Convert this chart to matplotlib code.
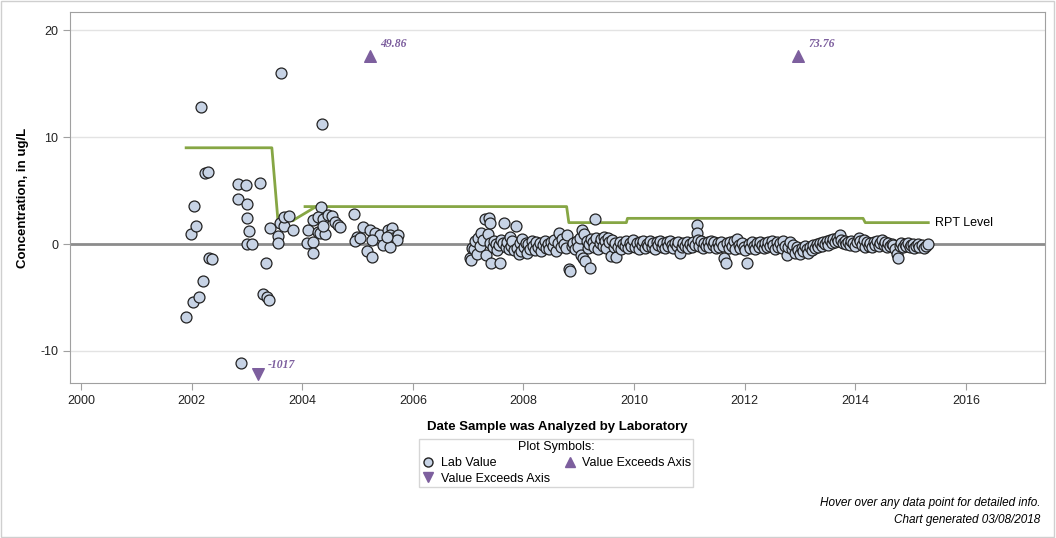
import numpy as np
import matplotlib
matplotlib.use("Agg")
import matplotlib.pyplot as plt
from matplotlib.lines import Line2D

plt.rcParams['font.family'] = ['Liberation Sans', 'DejaVu Sans']
plt.rcParams['axes.unicode_minus'] = False

# lab values (decimal year, ug/L)
early_dates = [2001.90, 2001.99, 2002.03, 2002.05, 2002.08, 2002.13, 2002.17, 2002.21, 2002.24, 2002.30,
               2002.31, 2002.37, 2002.84, 2002.84, 2002.89, 2002.98, 2003.00, 2003.00, 2003.04, 2003.00,
               2003.09, 2003.24, 2003.29, 2003.35, 2003.36, 2003.40, 2003.42, 2003.56, 2003.56, 2003.62,
               2003.60, 2003.67, 2003.67, 2003.76, 2003.83]
early_vals = [-6.8, 0.9, -5.4, 3.6, 1.7, -5.0, 12.8, -3.5, 6.6, 6.7,
              -1.3, -1.4, 5.6, 4.2, -11.1, 5.5, 3.7, 2.4, 1.2, 0.0,
              0.0, 5.7, -4.7, -1.8, -5.0, -5.2, 1.5, 0.75, 0.1, 16.0,
              2.0, 1.7, 2.5, 2.6, 1.3]

mid_dates = [2004.10, 2004.08, 2004.19, 2004.19, 2004.19, 2004.34, 2004.29, 2004.38, 2004.47, 2004.54,
             2004.59, 2004.65, 2004.68, 2004.29, 2004.32, 2004.41, 2004.38, 2004.36, 2004.94, 2005.10,
             2004.99, 2004.96, 2005.05, 2005.23, 2005.32, 2005.41, 2005.26, 2005.17, 2005.26, 2005.55,
             2005.62, 2005.59, 2005.64, 2005.73, 2005.71, 2005.53, 2005.46, 2005.59, 2005.53]
mid_vals = [1.3, 0.1, 0.2, -0.8, 2.2, 3.5, 2.5, 2.3, 2.7, 2.6,
            2.1, 1.8, 1.6, 1.1, 1.0, 0.9, 1.7, 11.2, 2.8, 1.6,
            0.65, 0.3, 0.55, 1.3, 1.0, 0.85, 0.4, -0.65, -1.2, 1.3,
            1.5, 0.85, 0.55, 0.85, 0.4, 0.2, -0.1, -0.3, 0.65]

late_dates = [2007.03, 2007.05, 2007.07, 2007.10, 2007.13, 2007.16, 2007.18, 2007.21, 2007.24, 2007.27,
              2007.30, 2007.32, 2007.35, 2007.37, 2007.39, 2007.40, 2007.42, 2007.45, 2007.47, 2007.50,
              2007.53, 2007.55, 2007.58, 2007.60, 2007.63, 2007.65, 2007.68, 2007.70, 2007.73, 2007.75,
              2007.78, 2007.80, 2007.83, 2007.86, 2007.88, 2007.91, 2007.93, 2007.96, 2007.98, 2008.01,
              2008.04, 2008.07, 2008.09, 2008.12, 2008.15, 2008.18, 2008.20, 2008.23, 2008.26, 2008.29,
              2008.32, 2008.35, 2008.38, 2008.41, 2008.44, 2008.47, 2008.50, 2008.53, 2008.56, 2008.59,
              2008.62, 2008.65, 2008.67, 2008.70, 2008.73, 2008.76, 2008.79, 2008.82, 2008.84, 2008.87,
              2008.90, 2008.93, 2008.96, 2008.99, 2009.02, 2009.04, 2009.06, 2009.08, 2009.10, 2009.12,
              2009.14, 2009.16, 2009.18, 2009.20, 2009.22, 2009.25, 2009.27, 2009.30, 2009.32, 2009.35,
              2009.38, 2009.40, 2009.43, 2009.45, 2009.48, 2009.50, 2009.52, 2009.55, 2009.58, 2009.60,
              2009.63, 2009.65, 2009.68, 2009.71, 2009.74, 2009.77, 2009.80, 2009.83, 2009.86, 2009.89,
              2009.92, 2009.95, 2009.98, 2010.02, 2010.05, 2010.08, 2010.11, 2010.14, 2010.17, 2010.20,
              2010.23, 2010.26, 2010.29, 2010.32, 2010.35, 2010.38, 2010.41, 2010.44, 2010.47, 2010.50,
              2010.53, 2010.56, 2010.59, 2010.62, 2010.65, 2010.68, 2010.71, 2010.74, 2010.77, 2010.80,
              2010.83, 2010.86, 2010.89, 2010.92, 2010.95, 2010.98, 2011.01, 2011.04, 2011.07, 2011.10,
              2011.13, 2011.14, 2011.15, 2011.18, 2011.21, 2011.24, 2011.27, 2011.30, 2011.33, 2011.36,
              2011.39, 2011.42, 2011.45, 2011.48, 2011.51, 2011.54, 2011.57, 2011.60, 2011.63, 2011.66,
              2011.68, 2011.71, 2011.74, 2011.77, 2011.80, 2011.83, 2011.86, 2011.89, 2011.92, 2011.95,
              2011.98, 2012.01, 2012.04, 2012.07, 2012.10, 2012.13, 2012.16, 2012.19, 2012.22, 2012.25,
              2012.28, 2012.31, 2012.34, 2012.37, 2012.40, 2012.43, 2012.46, 2012.49, 2012.52, 2012.55,
              2012.58, 2012.61, 2012.64, 2012.67, 2012.70, 2012.73, 2012.76, 2012.79, 2012.82, 2012.85,
              2012.88, 2012.91, 2012.94, 2012.97, 2013.00, 2013.03, 2013.06, 2013.09, 2013.12, 2013.15,
              2013.18, 2013.21, 2013.24, 2013.27, 2013.30, 2013.33, 2013.36, 2013.39, 2013.42, 2013.45,
              2013.48, 2013.51, 2013.54, 2013.57, 2013.60, 2013.63, 2013.66, 2013.69, 2013.72, 2013.75,
              2013.78, 2013.81, 2013.84, 2013.87, 2013.90, 2013.93, 2013.96, 2014.00, 2014.03, 2014.06,
              2014.09, 2014.12, 2014.15, 2014.18, 2014.21, 2014.24, 2014.27, 2014.30, 2014.33, 2014.36,
              2014.39, 2014.42, 2014.45, 2014.48, 2014.51, 2014.54, 2014.57, 2014.60, 2014.63, 2014.66,
              2014.69, 2014.72, 2014.75, 2014.77, 2014.80, 2014.83, 2014.86, 2014.89, 2014.92, 2014.95,
              2014.98, 2015.01, 2015.04, 2015.07, 2015.10, 2015.13, 2015.16, 2015.20, 2015.24, 2015.28,
              2015.32]
late_vals = [-1.3, -1.5, -0.4, -0.5, 0.3, -0.9, 0.6, -0.2, 1.0, 0.4,
             2.3, -1.0, 0.9, 2.4, 2.0, 0.1, -1.8, -0.3, 0.3, 0.0,
             -0.6, -0.1, -1.8, 0.4, 0.1, 2.0, -0.3, 0.2, -0.5, 0.7,
             -0.2, 0.3, -0.6, 1.7, -0.4, -0.9, 0.1, -0.7, 0.5, -0.3,
             0.1, -0.8, 0.0, -0.5, 0.3, -0.2, -0.6, 0.2, -0.3, 0.1,
             -0.7, -0.1, 0.3, -0.4, 0.0, -0.5, 0.2, -0.2, 0.4, -0.7,
             0.1, 1.0, -0.3, 0.5, 0.0, -0.4, 0.8, -2.3, -2.5, -0.2,
             0.1, -0.5, 0.3, -0.3, 0.6, -1.0, 1.3, -1.3, 0.9, -1.6,
             0.3, -0.4, 0.0, -2.2, 0.5, 0.2, -0.3, 2.3, 0.6, -0.5,
             0.1, 0.5, -0.2, 0.7, 0.3, -0.4, 0.6, 0.2, -1.1, 0.4,
             -0.3, 0.1, -1.2, -0.3, 0.2, -0.5, 0.0, -0.2, 0.3, -0.4,
             0.1, -0.2, 0.4, -0.3, 0.1, -0.5, 0.2, -0.1, 0.3, -0.4,
             0.0, -0.2, 0.3, -0.3, 0.1, -0.5, 0.2, -0.1, 0.3, -0.3,
             0.1, -0.4, 0.2, -0.2, 0.3, -0.1, -0.4, 0.1, -0.2, 0.2,
             -0.8, -0.3, 0.1, -0.2, 0.2, -0.4, 0.0, -0.3, 0.2, -0.1,
             1.8, 1.0, 0.4, -0.2, 0.3, -0.4, 0.1, -0.2, 0.2, -0.3,
             0.3, -0.1, 0.2, -0.4, 0.1, -0.3, 0.2, -0.2, -1.3, -1.8,
             0.1, -0.4, 0.2, -0.2, 0.3, -0.5, 0.5, -0.1, -0.4, 0.1,
             -0.3, -0.6, -1.8, 0.0, -0.4, 0.2, -0.2, -0.5, 0.1, -0.3,
             0.2, -0.1, -0.4, 0.1, -0.3, 0.2, -0.2, 0.3, -0.1, -0.5,
             0.2, -0.3, 0.1, -0.4, 0.3, -0.2, -1.0, -0.3, 0.2, -0.5,
             -0.1, -0.8, -0.3, -0.6, -0.9, -0.4, -0.7, -0.2, -0.5, -0.8,
             -0.3, -0.6, -0.1, -0.4, 0.0, -0.3, 0.1, -0.2, 0.2, 0.0,
             0.3, -0.1, 0.4, 0.1, 0.5, 0.2, 0.6, 0.3, 0.8, 0.4,
             0.1, 0.3, 0.0, 0.2, -0.1, 0.3, 0.1, -0.2, 0.2, 0.6,
             0.3, -0.1, 0.4, -0.3, 0.2, -0.2, 0.1, -0.3, 0.2, -0.1,
             0.3, -0.2, 0.1, 0.4, -0.1, 0.2, -0.3, 0.1, -0.2, 0.0,
             -0.1, -0.5, -0.9, -1.3, -0.2, 0.1, -0.3, 0.0, -0.2, 0.1,
             -0.3, -0.1, 0.0, -0.4, -0.2, 0.0, -0.3, -0.1, -0.4, -0.2,
             0.0]

# values off the axis
up_dates = [2005.23, 2012.97]
up_labels = ["49.86", "73.76"]
down_dates = [2003.20]
down_labels = ["-1017"]

# RPT level step line
rpt_dates = [2001.90, 2003.45, 2003.56, 2003.83]
rpt_vals = [9.0, 9.0, 2.2, 2.2]
rpt2_dates = [2003.83, 2004.25]
rpt2_vals = [2.2, 3.5]
rpt3_dates = [2004.05, 2008.78, 2008.82, 2009.86, 2009.88, 2014.14, 2014.18, 2015.32]
rpt3_vals = [3.5, 3.5, 2.0, 2.0, 2.4, 2.4, 2.0, 2.0]

dates = early_dates + mid_dates + late_dates
vals = early_vals + mid_vals + late_vals

purple = '#7d5f9e'
green = '#86a644'

fig = plt.figure(figsize=(10.56, 5.38), dpi=100)
ax = fig.add_axes([70/1056, 1-383/538, 975/1056, 371/538])

ax.set_xlim(1999.8, 2017.43)
ax.set_ylim(-13.0, 21.7)

for y in [-10, 10, 20]:
    ax.axhline(y, color='#e3e3e3', lw=1, zorder=0)
ax.axhline(0, color='#8c8c8c', lw=2, zorder=1)

ax.plot(rpt_dates, rpt_vals, color=green, lw=2, zorder=2)
ax.plot(rpt2_dates, rpt2_vals, color=green, lw=2, zorder=2)
ax.plot(rpt3_dates, rpt3_vals, color=green, lw=2, zorder=2)
ax.text(rpt3_dates[-1] + 0.12, rpt3_vals[-1], "RPT Level", fontsize=9, va='center', ha='left')

ax.scatter(dates, vals, s=62, c='#c7d3e5', edgecolors='#222222', linewidths=0.9, zorder=3)

top = 17.6
bot = -12.2
ax.scatter(up_dates, [top] * len(up_dates), marker='^', s=70, c=purple, zorder=4)
for d, lab in zip(up_dates, up_labels):
    ax.text(d + 0.18, top + 1.1, lab, color=purple, fontsize=8.5, fontweight='bold',
            fontstyle='italic', family='Liberation Serif', va='center', ha='left')
ax.scatter(down_dates, [bot] * len(down_dates), marker='v', s=70, c=purple, zorder=4)
for d, lab in zip(down_dates, down_labels):
    ax.text(d + 0.18, bot + 0.9, lab, color=purple, fontsize=8.5, fontweight='bold',
            fontstyle='italic', family='Liberation Serif', va='center', ha='left')

ax.set_xticks([2000, 2002, 2004, 2006, 2008, 2010, 2012, 2014, 2016])
ax.set_yticks([-10, 0, 10, 20])
for s in ax.spines.values():
    s.set_color('#a0a0a0')
ax.tick_params(direction='out', length=5, color='#a0a0a0', labelsize=9, labelcolor='#222222')

ax.set_xlabel("Date Sample was Analyzed by Laboratory", fontsize=9.5, fontweight='bold', labelpad=10)
ax.set_ylabel("Concentration, in ug/L", fontsize=9.5, fontweight='bold', labelpad=8)

handles = [Line2D([], [], marker='o', ls='', markersize=6.5, markerfacecolor='#c7d3e5', markeredgecolor='#222222'),
           Line2D([], [], marker='v', ls='', markersize=6.5, color=purple),
           Line2D([], [], marker='^', ls='', markersize=6.5, color=purple)]
labels = ["Lab Value", "Value Exceeds Axis", "Value Exceeds Axis"]
leg = fig.legend(handles, labels, ncol=2, title="Plot Symbols:", loc='center',
                 bbox_to_anchor=(556/1056, 1-463/538), fontsize=9, title_fontsize=9,
                 frameon=True, fancybox=False, edgecolor='#cccccc',
                 handletextpad=0.4, columnspacing=1.0, labelspacing=0.3, borderpad=0.15,
                 handlelength=1.2)
leg.get_frame().set_linewidth(1)

fig.text(1040/1056, 1-503/538, "Hover over any data point for detailed info.", ha='right', va='center',
         fontsize=8.5, fontstyle='italic')
fig.text(1040/1056, 1-520/538, "Chart generated 03/08/2018", ha='right', va='center',
         fontsize=8.5, fontstyle='italic')

fig.patches.append(plt.Rectangle((0.0005, 0.001), 0.998, 0.997, transform=fig.transFigure,
                                 fill=False, edgecolor='#cfcfcf', lw=1))

fig.savefig('out.png', dpi=100)
